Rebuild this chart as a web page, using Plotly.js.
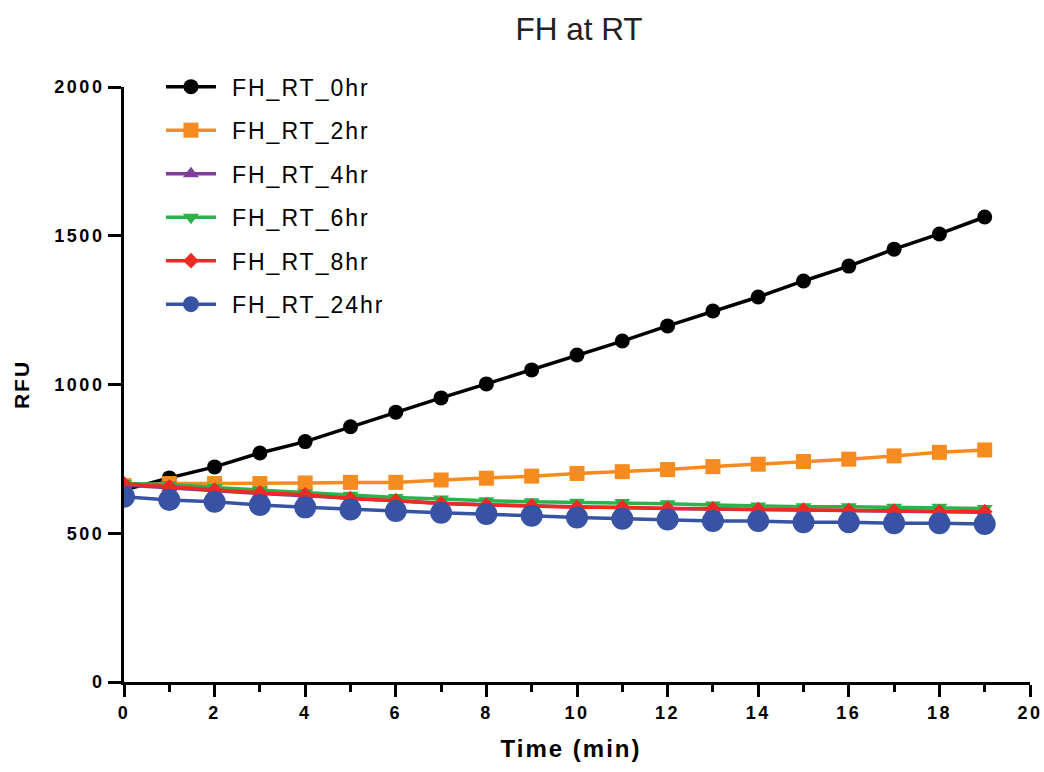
<!DOCTYPE html>
<html>
<head>
<meta charset="utf-8">
<script src="https://cdn.plot.ly/plotly-3.0.1.min.js"></script>
<style>
html,body{margin:0;padding:0;background:#fff;}
#chart{width:1044px;height:772px;}
#chart .legendtext{letter-spacing:2px;transform:translateX(11px);}
#chart .legend .scrollbox{clip-path:none !important;}
#chart .xtick text, #chart .ytick text{letter-spacing:2.5px;}
#chart .ytitle{letter-spacing:2px;}
#chart .xtitle{letter-spacing:2px;transform:translateX(-6px);}
</style>
</head>
<body>
<div id="chart"></div>
<script>
const timeMin = [0,1,2,3,4,5,6,7,8,9,10,11,12,13,14,15,16,17,18,19];
const seriesNames = ["FH_RT_0hr","FH_RT_2hr","FH_RT_4hr","FH_RT_6hr","FH_RT_8hr","FH_RT_24hr"];
const rt0hr  = [645,686,723,770,808,858,907,955,1002,1049,1099,1146,1197,1247,1294,1348,1398,1455,1506,1563];
const rt2hr  = [660,667,667,667,669,671,671,679,685,692,701,707,714,724,732,741,749,760,772,780];
const rt4hr  = [662,652,642,634,626,617,608,601,596,592,588,586,583,581,579,577,575,574,572,571];
const rt6hr  = [667,664,654,645,636,628,620,615,609,606,604,603,599,595,592,589,589,587,587,583];
const rt8hr  = [666,656,645,636,629,617,609,600,595,592,587,587,583,582,580,578,576,575,572,572];
const rt24hr = [623,612,606,595,587,580,575,569,565,559,553,549,546,541,541,537,537,534,534,531];

const colors = ["#000000","#F68B1F","#7F3F98","#2BB34B","#EE2A24","#3953A4"];
const symbols = ["circle","square","triangle-up","triangle-down","diamond","circle"];
const sizes = [15,15,14,14,12,22];
const data = [rt0hr, rt2hr, rt4hr, rt6hr, rt8hr, rt24hr];

const traces = data.map((y, i) => ({
  x: timeMin, y: y, type: 'scatter', mode: 'lines+markers',
  name: seriesNames[i], legendgroup: 'g' + i,
  line: {color: colors[i], width: 3.5},
  marker: {color: colors[i], symbol: symbols[i], size: sizes[i]}
}));

const layout = {
  width: 1044, height: 772,
  paper_bgcolor: '#ffffff', plot_bgcolor: '#ffffff',
  margin: {l: 124, r: 14, t: 87, b: 90},
  font: {family: 'Liberation Sans, Arial, sans-serif', color: '#000'},
  title: {text: 'FH at RT', x: 0.5546, xanchor: 'center', y: 0.963, yanchor: 'middle',
          font: {size: 31.5, color: '#222'}},
  showlegend: true,
  legend: {x: 0.0408, y: 1.0366, xanchor: 'left', yanchor: 'top',
           font: {size: 23, color: '#000'}, tracegroupgap: 10.6,
           bgcolor: 'rgba(0,0,0,0)', itemwidth: 50},
  xaxis: {range: [0, 20], tickmode: 'linear', tick0: 0, dtick: 2,
          ticks: 'outside', ticklen: 12, tickwidth: 3, tickcolor: '#000',
          minor: {dtick: 1, ticks: 'outside', ticklen: 7, tickwidth: 3, tickcolor: '#000'},
          showline: true, linewidth: 3, linecolor: '#000', showgrid: false, zeroline: false,
          tickfont: {size: 18, family: 'Liberation Sans, Arial, sans-serif', weight: 'bold'},
          title: {text: '<b>Time (min)</b>', font: {size: 24}, standoff: 19}},
  yaxis: {range: [0, 2000], tickmode: 'linear', tick0: 0, dtick: 500,
          ticks: 'outside', ticklen: 13, tickwidth: 3, tickcolor: '#000',
          showline: true, linewidth: 3, linecolor: '#000', showgrid: false, zeroline: false,
          tickfont: {size: 18, family: 'Liberation Sans, Arial, sans-serif', weight: 'bold'},
          title: {text: '<b>RFU</b>', font: {size: 21}, standoff: 30}}
};

Plotly.newPlot('chart', traces, layout, {displayModeBar: false, staticPlot: true});
</script>
</body>
</html>
